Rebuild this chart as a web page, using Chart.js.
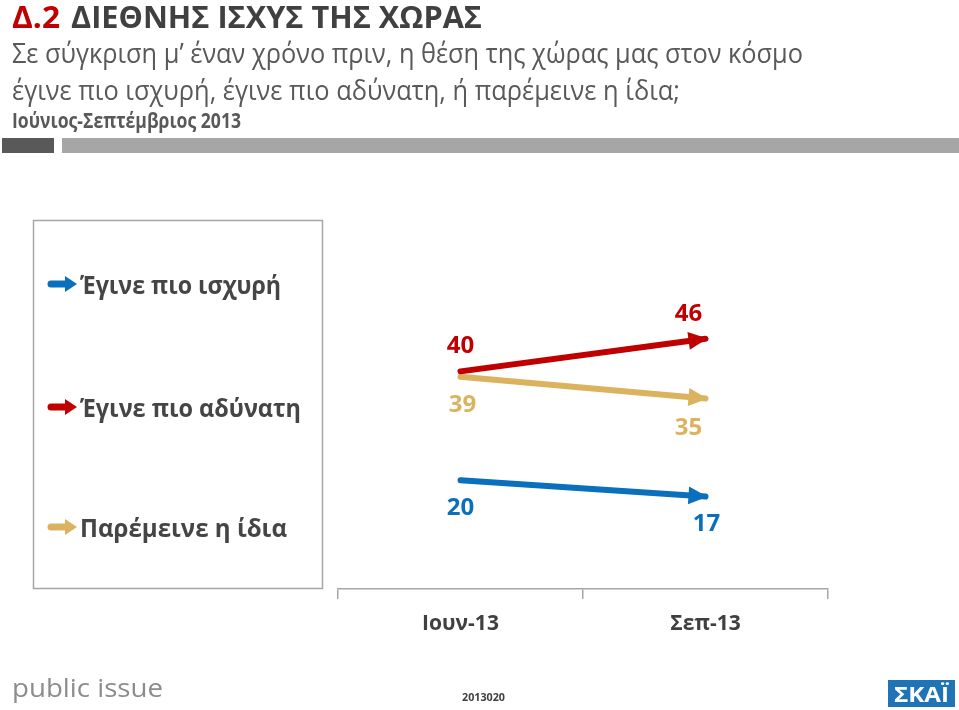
<!DOCTYPE html>
<html>
<head>
<meta charset="utf-8">
<script src="https://cdn.jsdelivr.net/npm/chart.js@4"></script>
<style>
  html, body { margin: 0; padding: 0; background: #fff; }
  #wrap { width: 959px; height: 710px; }
</style>
</head>
<body>
<div id="wrap"><canvas id="myChart" width="959" height="710"></canvas></div>
<script>
// data
var months = ['Ιουν-13', 'Σεπ-13'];
var stronger = [20, 17];
var weaker = [40, 46];
var same = [39, 35];
var seriesNames = ['Έγινε πιο ισχυρή', 'Έγινε πιο αδύνατη', 'Παρέμεινε η ίδια'];
var seriesColors = ['#0a6fbd', '#c00000', '#dbb35f'];

var FONT = '"Open Sans", "Noto Sans", sans-serif';

// draw text squeezed/stretched to an exact width
function fitText(ctx, text, x, y, w) {
    var m = ctx.measureText(text).width;
    ctx.save();
    ctx.translate(x, y);
    ctx.scale(w / m, 1);
    ctx.fillText(text, 0, 0);
    ctx.restore();
}

function arrow(ctx, x1, y1, x2, y2, color, thick, headLen, headHalf) {
    var a = Math.atan2(y2 - y1, x2 - x1);
    var bx = x2 - Math.cos(a) * headLen, by = y2 - Math.sin(a) * headLen;
    ctx.save();
    ctx.strokeStyle = color;
    ctx.fillStyle = color;
    ctx.lineWidth = thick;
    ctx.lineCap = 'round';
    ctx.beginPath();
    ctx.moveTo(x1, y1);
    ctx.lineTo(bx + Math.cos(a) * 2, by + Math.sin(a) * 2);
    ctx.stroke();
    ctx.beginPath();
    ctx.moveTo(x2, y2);
    ctx.lineTo(bx + Math.sin(a) * headHalf, by - Math.cos(a) * headHalf);
    ctx.lineTo(bx - Math.sin(a) * headHalf, by + Math.cos(a) * headHalf);
    ctx.closePath();
    ctx.fill();
    ctx.restore();
}

// header, footer and legend box
var pagePlugin = {
    id: 'page',
    beforeDraw: function (chart) {
        var ctx = chart.ctx;
        ctx.save();
        ctx.fillStyle = '#fff';
        ctx.fillRect(0, 0, chart.width, chart.height);
        ctx.textBaseline = 'alphabetic';
        ctx.textAlign = 'left';

        ctx.font = 'bold 31px ' + FONT;
        ctx.fillStyle = '#c00000';
        fitText(ctx, 'Δ.2', 12, 28, 48);
        ctx.fillStyle = '#404040';
        fitText(ctx, 'ΔΙΕΘΝΗΣ ΙΣΧΥΣ ΤΗΣ ΧΩΡΑΣ', 71, 28, 411);

        ctx.font = '28px ' + FONT;
        ctx.fillStyle = '#595959';
        fitText(ctx, 'Σε σύγκριση μ’ έναν χρόνο πριν, η θέση της χώρας μας στον κόσμο', 12, 63, 791);
        fitText(ctx, 'έγινε πιο ισχυρή, έγινε πιο αδύνατη, ή παρέμεινε η ίδια;', 12, 100, 668);

        ctx.font = 'bold 21px ' + FONT;
        fitText(ctx, 'Ιούνιος-Σεπτέμβριος 2013', 12, 128, 229);

        ctx.fillStyle = '#595959';
        ctx.fillRect(2, 138, 52, 15);
        ctx.fillStyle = '#a6a6a6';
        ctx.fillRect(62, 138, 897, 15);

        // legend frame
        ctx.strokeStyle = '#a6a6a6';
        ctx.lineWidth = 1.5;
        ctx.strokeRect(33.5, 220.5, 289, 368);

        // footer
        ctx.font = '25px ' + FONT;
        ctx.fillStyle = '#8c8c8c';
        fitText(ctx, 'public issue', 12, 697, 151);
        ctx.font = 'bold 11px ' + FONT;
        ctx.fillStyle = '#404040';
        fitText(ctx, '2013020', 462, 701, 43);

        ctx.fillStyle = '#1f74b5';
        ctx.fillRect(888, 680, 67, 27);
        ctx.fillStyle = '#fff';
        ctx.font = 'bold 22px ' + FONT;
        fitText(ctx, 'ΣΚΑΪ', 894, 702, 55);
        ctx.restore();
    },
    afterDraw: function (chart) {
        var ctx = chart.ctx;
        var rows = [284, 407, 527];
        var ends = [281, 301, 287];
        ctx.save();
        chart.data.datasets.forEach(function (ds, i) {
            arrow(ctx, 51, rows[i], 77, rows[i], ds.borderColor, 7, 12, 8);
            ctx.font = 'bold 25px ' + FONT;
            ctx.fillStyle = '#454545';
            ctx.textBaseline = 'alphabetic';
            fitText(ctx, ds.label, 80, rows[i] + 10, ends[i] - 80);
        });
        ctx.restore();
    }
};

// arrow heads and value labels
var labelShift = [
    { dx: [0, 1], dy: [28, 28] },
    { dx: [0, -17], dy: [-25, -25] },
    { dx: [2, -17], dy: [28, 30] }
];
var arrowPlugin = {
    id: 'arrows',
    afterDatasetsDraw: function (chart) {
        var ctx = chart.ctx;
        ctx.save();
        chart.data.datasets.forEach(function (ds, i) {
            var pts = chart.getDatasetMeta(i).data;
            var p = pts[pts.length - 1], q = pts[pts.length - 2];
            var a = Math.atan2(p.y - q.y, p.x - q.x);
            var tx = p.x + Math.cos(a) * 2, ty = p.y + Math.sin(a) * 2;
            var bx = tx - Math.cos(a) * 19, by = ty - Math.sin(a) * 19;
            ctx.fillStyle = ds.borderColor;
            ctx.beginPath();
            ctx.moveTo(tx, ty);
            ctx.lineTo(bx + Math.sin(a) * 9, by - Math.cos(a) * 9);
            ctx.lineTo(bx - Math.sin(a) * 9, by + Math.cos(a) * 9);
            ctx.closePath();
            ctx.fill();

            ctx.font = 'bold 24px ' + FONT;
            ctx.textAlign = 'center';
            ctx.textBaseline = 'middle';
            pts.forEach(function (pt, j) {
                ctx.fillText(String(ds.data[j]), pt.x + labelShift[i].dx[j], pt.y + labelShift[i].dy[j]);
            });
        });
        ctx.restore();
    }
};

var ctx = document.getElementById('myChart').getContext('2d');
var myChart = new Chart(ctx, {
    type: 'line',
    data: {
        labels: months,
        datasets: [{
            label: seriesNames[0],
            data: stronger,
            borderColor: seriesColors[0],
            backgroundColor: seriesColors[0]
        }, {
            label: seriesNames[1],
            data: weaker,
            borderColor: seriesColors[1],
            backgroundColor: seriesColors[1]
        }, {
            label: seriesNames[2],
            data: same,
            borderColor: seriesColors[2],
            backgroundColor: seriesColors[2]
        }]
    },
    options: {
        responsive: false,
        animation: false,
        layout: {
            padding: { left: 338, right: 131, top: 219, bottom: 0 }
        },
        elements: {
            line: { borderWidth: 6, borderCapStyle: 'round', tension: 0 },
            point: { radius: 0, hoverRadius: 0 }
        },
        plugins: {
            legend: { display: false },
            tooltip: { enabled: false }
        },
        scales: {
            y: {
                display: false,
                min: 0,
                max: 68
            },
            x: {
                offset: true,
                afterFit: function (scale) { scale.height = 121; },
                border: { display: true, color: '#a6a6a6', width: 1.5 },
                grid: {
                    offset: true,
                    drawOnChartArea: false,
                    drawTicks: true,
                    tickLength: 10,
                    color: '#a6a6a6',
                    lineWidth: 1.5
                },
                ticks: {
                    padding: 12,
                    color: '#404040',
                    font: { family: FONT, size: 21, weight: 'bold' }
                }
            }
        }
    },
    plugins: [pagePlugin, arrowPlugin]
});
</script>
</body>
</html>
